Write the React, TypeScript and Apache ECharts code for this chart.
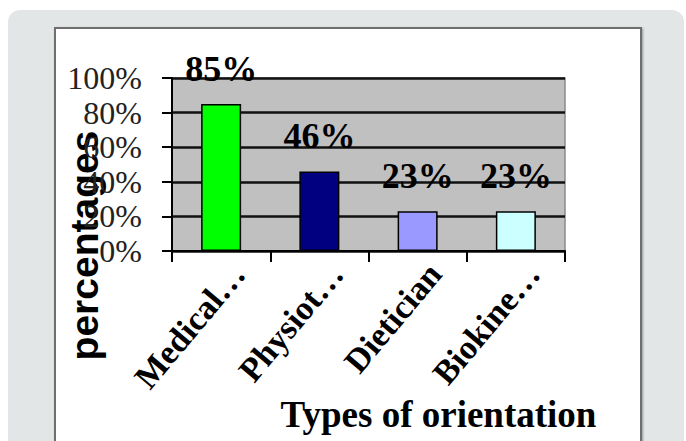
import React, { useEffect, useRef } from "react";
import * as echarts from "echarts";

const categories = ["Medical…", "Physiot…", "Dietician", "Biokine…"];
const values = [85, 46, 23, 23];
const barColors = ["#00ff00", "#000080", "#9999ff", "#ccffff"];
const yMin = 0;
const yMax = 100;
const yStep = 20;
const xTitle = "Types of orientation";
const yTitle = "percentages";

const SERIF = "'Liberation Serif', 'Times New Roman', serif";
const SANS = "'Liberation Sans', Arial, sans-serif";

export default function App() {
  const ref = useRef<HTMLDivElement>(null);

  useEffect(() => {
    if (!ref.current) return;
    const chart = echarts.init(ref.current, null, { renderer: "svg" });
    chart.setOption({
      animation: false,
      grid: {
        left: 172,
        right: 121,
        top: 78,
        bottom: 190,
        show: true,
        backgroundColor: "#c0c0c0",
        borderColor: "#8a8a8a",
        borderWidth: 1.5,
      },
      xAxis: {
        type: "category",
        data: categories,
        boundaryGap: true,
        axisLine: { lineStyle: { color: "#000", width: 2 } },
        axisTick: { show: true, length: 11, lineStyle: { color: "#000", width: 2 } },
        axisLabel: {
          rotate: 50,
          interval: 0,
          margin: 0,
          verticalAlign: "top",
          lineHeight: 34,
          padding: [7, 2, 0, 0],
          fontFamily: SERIF,
          fontWeight: "bold",
          fontSize: 34,
          color: "#000",
        },
        name: xTitle,
        nameLocation: "middle",
        nameGap: 145,
        nameMoveOverlap: false,
        nameTextStyle: {
          fontFamily: SERIF,
          fontWeight: "bold",
          fontSize: 37,
          color: "#000",
          padding: [0, 0, 0, 140],
        },
      },
      yAxis: {
        type: "value",
        min: yMin,
        max: yMax,
        interval: yStep,
        axisLine: { show: true, lineStyle: { color: "#000", width: 2 } },
        axisTick: { show: true, length: 10, lineStyle: { color: "#000", width: 2 } },
        splitLine: { show: true, lineStyle: { color: "#111", width: 2.5 } },
        axisLabel: {
          formatter: "{value}%",
          margin: 30,
          fontFamily: SERIF,
          fontSize: 32,
          color: "#222",
        },
        name: yTitle,
        nameLocation: "middle",
        nameRotate: 90,
        nameGap: 68,
        nameMoveOverlap: false,
        nameTextStyle: {
          fontFamily: SANS,
          fontWeight: "bold",
          fontSize: 39,
          color: "#000",
          padding: [0, 162, 0, 0],
        },
      },
      series: [
        {
          type: "bar",
          data: values.map((v, i) => ({
            value: v,
            itemStyle: { color: barColors[i] },
          })),
          barWidth: 40,
          itemStyle: { borderColor: "#000", borderWidth: 1.5 },
          label: {
            show: true,
            position: "top",
            distance: 17,
            formatter: "{c}%",
            fontFamily: SERIF,
            fontWeight: "bold",
            fontSize: 36,
            color: "#000",
          },
        },
      ],
    });
    return () => chart.dispose();
  }, []);

  return (
    <div
      style={{
        position: "absolute",
        left: 0,
        top: 0,
        width: 686,
        height: 441,
        background: "#ffffff",
        overflow: "hidden",
      }}
    >
      <div
        style={{
          position: "absolute",
          left: 8,
          top: 10,
          width: 676,
          height: 460,
          background: "#e3e6e7",
          borderRadius: 12,
        }}
      />
      <div
        style={{
          position: "absolute",
          left: 54,
          top: 27,
          width: 584,
          height: 420,
          background: "#ffffff",
          border: "2px solid #6f6f6f",
          boxShadow: "1px 1px 2px rgba(0,0,0,0.35)",
        }}
      />
      <div
        ref={ref}
        style={{ position: "absolute", left: 0, top: 0, width: 686, height: 441 }}
      />
    </div>
  );
}
